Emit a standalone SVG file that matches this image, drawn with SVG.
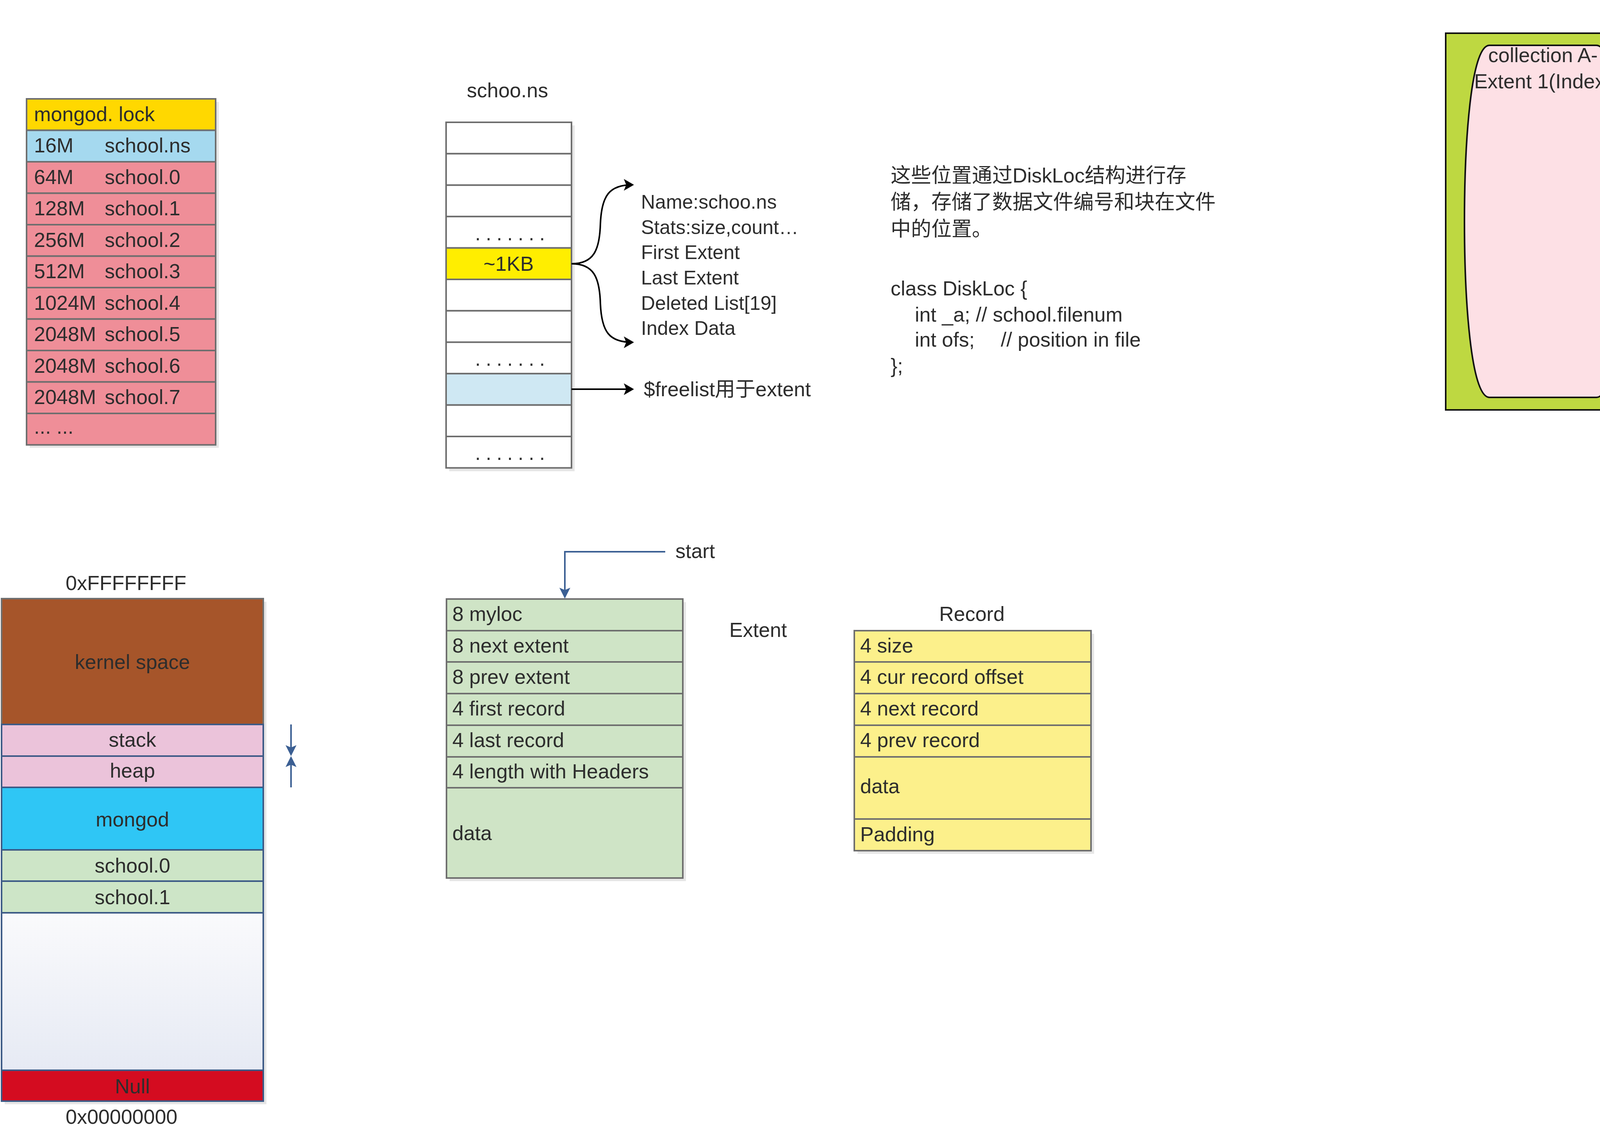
<svg xmlns="http://www.w3.org/2000/svg" width="6672" height="2897" viewBox="0 0 6672 2897">
<style>
.t{font-family:"Liberation Sans",Arial,"Noto Sans CJK SC",sans-serif;font-size:52px;fill:#2D2D2D}
.cjk{font-family:"Liberation Sans","Noto Sans CJK SC",sans-serif;font-size:52px;fill:#2D2D2D}
.f50{font-size:50px}
.f84{font-size:84px}
.c{text-anchor:middle}
.w{fill:#FFFFFF;font-weight:bold}
.cell{stroke:#6E6E6E;stroke-width:4}
.sh{fill:#E6E6E6}
.mem{stroke:#3C5A86;stroke-width:4}
.green{fill:#BED841;stroke:#111;stroke-width:4}
.pillB{fill:#CFEAF5;stroke:#111;stroke-width:4}
.pillP{fill:#FDE0E5;stroke:#111;stroke-width:4}
.doc{fill:#F8C630;stroke:#111;stroke-width:4}
.pad{fill:#FDF28C;stroke:#111;stroke-width:4}
.del{fill:#CFEAF5;stroke:#E8202A;stroke-width:4;stroke-dasharray:26 16}
.yl{fill:#FCF08B}
.gr{fill:#CFE4C6}
.blk{fill:none;stroke:#000;stroke-width:4}
.blu{fill:none;stroke:#3B5F93;stroke-width:4}
.wht{fill:none;stroke:#FFFFFF;stroke-width:10}
</style>
<defs>
<marker id="ahK" viewBox="0 0 26 30" refX="22" refY="15" markerWidth="26" markerHeight="30" markerUnits="userSpaceOnUse" orient="auto"><path d="M0,0 L26,15 L0,30 L6,15 Z" fill="#000"/></marker>
<marker id="ahB" viewBox="0 0 28 28" refX="24" refY="14" markerWidth="28" markerHeight="28" markerUnits="userSpaceOnUse" orient="auto"><path d="M0,0 L28,14 L0,28 L6,14 Z" fill="#3B5F93"/></marker>
<marker id="ahW" viewBox="0 0 50 56" refX="40" refY="28" markerWidth="50" markerHeight="56" markerUnits="userSpaceOnUse" orient="auto"><path d="M0,0 L50,28 L0,56 L10,28 Z" fill="#FFFFFF"/></marker>
<linearGradient id="gEmpty" x1="0" y1="0" x2="0" y2="1"><stop offset="0" stop-color="#FAFAFC"/><stop offset="1" stop-color="#E6EAF4"/></linearGradient>
</defs>

<g id="files">
<rect class="sh" x="76" y="261" width="484" height="885"/>
<rect class="cell" x="68" y="253" width="484" height="80.5" fill="#FFD800"/>
<rect class="cell" x="68" y="333.5" width="484" height="80.5" fill="#A5D9EF"/>
<g fill="#EF8E98">
<rect class="cell" x="68" y="414" width="484" height="80.5"/>
<rect class="cell" x="68" y="494.5" width="484" height="80.5"/>
<rect class="cell" x="68" y="575" width="484" height="80.5"/>
<rect class="cell" x="68" y="655.5" width="484" height="80.5"/>
<rect class="cell" x="68" y="736" width="484" height="80.5"/>
<rect class="cell" x="68" y="816.5" width="484" height="80.5"/>
<rect class="cell" x="68" y="897" width="484" height="80.5"/>
<rect class="cell" x="68" y="977.5" width="484" height="80.5"/>
<rect class="cell" x="68" y="1058" width="484" height="80.5"/>
</g>
<text class="t" x="87" y="310">mongod. lock</text>
<text class="t" x="87" y="390">16M</text><text class="t" x="268" y="390">school.ns</text>
<text class="t" x="87" y="471">64M</text><text class="t" x="268" y="471">school.0</text>
<text class="t" x="87" y="551">128M</text><text class="t" x="268" y="551">school.1</text>
<text class="t" x="87" y="632">256M</text><text class="t" x="268" y="632">school.2</text>
<text class="t" x="87" y="712">512M</text><text class="t" x="268" y="712">school.3</text>
<text class="t" x="87" y="793">1024M</text><text class="t" x="268" y="793">school.4</text>
<text class="t" x="87" y="873">2048M</text><text class="t" x="268" y="873">school.5</text>
<text class="t" x="87" y="954">2048M</text><text class="t" x="268" y="954">school.6</text>
<text class="t" x="87" y="1034">2048M</text><text class="t" x="268" y="1034">school.7</text>
<text class="t" x="87" y="1110">... ...</text>
</g>

<g id="ns-table">
<text class="t" x="1195" y="249">schoo.ns</text>
<rect class="sh" x="1150" y="321" width="321" height="885"/>
<g fill="#FFFFFF">
<rect class="cell" x="1142" y="313" width="321" height="80.4"/>
<rect class="cell" x="1142" y="393.4" width="321" height="80.4"/>
<rect class="cell" x="1142" y="473.8" width="321" height="80.4"/>
<rect class="cell" x="1142" y="554.2" width="321" height="80.4"/>
<rect class="cell" x="1142" y="634.6" width="321" height="80.4" fill="#FFEE00"/>
<rect class="cell" x="1142" y="715" width="321" height="80.4"/>
<rect class="cell" x="1142" y="795.4" width="321" height="80.4"/>
<rect class="cell" x="1142" y="875.8" width="321" height="80.4"/>
<rect class="cell" x="1142" y="956.2" width="321" height="80.4" fill="#CFE8F3"/>
<rect class="cell" x="1142" y="1036.6" width="321" height="80.4"/>
<rect class="cell" x="1142" y="1117" width="321" height="80.4"/>
</g>
<text class="t" x="1216" y="615" letter-spacing="13">.......</text>
<text class="t c" x="1302" y="693">~1KB</text>
<text class="t" x="1216" y="936" letter-spacing="13">.......</text>
<text class="t" x="1216" y="1177" letter-spacing="13">.......</text>
</g>

<g id="ns-details">
<text class="t f50" x="1641" y="534">Name:schoo.ns</text>
<text class="t f50" x="1641" y="599">Stats:size,count…</text>
<text class="t f50" x="1641" y="663">First Extent</text>
<text class="t f50" x="1641" y="728">Last Extent</text>
<text class="t f50" x="1641" y="793">Deleted List[19]</text>
<text class="t f50" x="1641" y="857">Index Data</text>
</g>
<g id="freelist">
<text class="cjk" x="1648" y="1014">$freelist用于extent</text>
</g>

<g id="diskloc-note">
<text class="cjk" x="2280" y="467">这些位置通过DiskLoc结构进行存</text>
<text class="cjk" x="2280" y="535">储，存储了数据文件编号和块在文件</text>
<text class="cjk" x="2280" y="604">中的位置。</text>
<text class="t" x="2280" y="756">class DiskLoc {</text>
<text class="t" x="2342" y="823">int _a; // school.filenum</text>
<text class="t" x="2342" y="887">int ofs;</text><text class="t" x="2562" y="887">// position in file</text>
<text class="t" x="2280" y="954">};</text>
</g>

<g id="school1">
<text class="t c" x="4461" y="62">school.1</text>
<rect class="green" x="3701" y="85" width="1367" height="964"/>
<path class="pillP" d="M3813,116 H4087 C4135,116 4151,368 4151,566 C4151,765 4135,1017 4087,1017 H3813 C3765,1017 3749,765 3749,566 C3749,368 3765,116 3813,116 Z"/>
<path class="pillB" d="M4249,116 H4520 C4568,116 4584,368 4584,566 C4584,765 4568,1017 4520,1017 H4249 C4201,1017 4185,765 4185,566 C4185,368 4201,116 4249,116 Z"/>
<path class="pillB" d="M4691,116 H4962 C5010,116 5026,368 5026,566 C5026,765 5010,1017 4962,1017 H4691 C4643,1017 4627,765 4627,566 C4627,368 4643,116 4691,116 Z"/>
<text class="t c" x="3950" y="159">collection A-</text><text class="t c" x="3950" y="226">Extent 1(Index)</text>
<text class="t c" x="4385" y="159">collection A-</text><text class="t c" x="4385" y="226">Extent 2(Data)</text>
<text class="t c" x="4827" y="159">collection B-</text><text class="t c" x="4827" y="226">Extent 4(Data)</text>
<rect class="doc" x="4209" y="294" width="353" height="161" rx="45" ry="40"/>
<rect class="pad" x="4209" y="391" width="353" height="64" rx="40" ry="32"/>
<text class="t c" x="4385" y="361">Document</text><text class="t c" x="4385" y="439">Padding</text>
<rect class="doc" x="4209" y="503" width="353" height="161" rx="45" ry="40"/>
<rect class="pad" x="4209" y="599" width="353" height="65" rx="40" ry="32"/>
<text class="t c" x="4385" y="571">Document</text><text class="t c" x="4385" y="647">Padding</text>
<rect class="del" x="4209" y="696" width="353" height="66" rx="40" ry="33"/>
<text class="t c" x="4385" y="746">Deleted</text>
<rect class="doc" x="4209" y="776" width="353" height="162" rx="45" ry="40"/>
<rect class="pad" x="4209" y="873" width="353" height="65" rx="40" ry="32"/>
<text class="t c" x="4385" y="844">Document</text><text class="t c" x="4385" y="921">Padding</text>
<rect class="doc" x="4651" y="294" width="353" height="161" rx="45" ry="40"/>
<rect class="pad" x="4651" y="391" width="353" height="64" rx="40" ry="32"/>
<text class="t c" x="4827" y="361">Document</text><text class="t c" x="4827" y="439">Padding</text>
<rect class="del" x="4651" y="503" width="353" height="65" rx="40" ry="32"/>
<text class="t c" x="4827" y="552">Deleted</text>
<rect class="del" x="4651" y="599" width="353" height="161" rx="45" ry="45"/>
<text class="t c" x="4827" y="697">Deleted</text>
</g>

<g id="school2">
<text class="t c" x="5747" y="61">school.2</text>
<rect class="green" x="5221" y="85" width="1445" height="963"/>
<path class="pillB" d="M5327,116 H5599 C5647,116 5663,368 5663,566 C5663,765 5647,1017 5599,1017 H5327 C5279,1017 5263,765 5263,566 C5263,368 5279,116 5327,116 Z"/>
<path class="pillB" d="M5768,116 H6042 C6090,116 6106,368 6106,566 C6106,765 6090,1017 6042,1017 H5768 C5720,1017 5704,765 5704,566 C5704,368 5720,116 5768,116 Z"/>
<path class="pillP" d="M6210,116 H6484 C6532,116 6548,368 6548,566 C6548,765 6532,1017 6484,1017 H6210 C6162,1017 6146,765 6146,566 C6146,368 6162,116 6210,116 Z"/>
<text class="t c" x="5463" y="162">collection B-</text><text class="t c" x="5463" y="229">Extent 5(Data)</text>
<text class="t c" x="5905" y="162">collection B-</text><text class="t c" x="5905" y="229">Extent 6(Data)</text>
<text class="t c" x="6347" y="162">collection B-</text><text class="t c" x="6347" y="229">Extent 7(Index)</text>
<rect class="del" x="5285" y="310" width="354" height="161" rx="45" ry="45"/>
<text class="t c" x="5462" y="408">Deleted</text>
<rect class="doc" x="5285" y="583" width="354" height="162" rx="45" ry="40"/>
<rect class="pad" x="5285" y="680" width="354" height="65" rx="40" ry="32"/>
<text class="t c" x="5462" y="653">Document</text><text class="t c" x="5462" y="731">Padding</text>
<rect class="doc" x="5728" y="294" width="354" height="161" rx="45" ry="40"/>
<rect class="pad" x="5728" y="390" width="354" height="65" rx="40" ry="32"/>
<text class="t c" x="5905" y="364">Document</text><text class="t c" x="5905" y="441">Padding</text>
</g>

<g id="legend">
<rect x="6187" y="1131" width="80" height="78" fill="#F8C630"/>
<rect x="6187" y="1218" width="80" height="79" fill="#CFEAF5"/>
<rect x="6187" y="1308" width="80" height="79" fill="#BED841"/>
<text class="t" x="6283" y="1187">dataSize</text>
<text class="t" x="6283" y="1275">storageSize</text>
<text class="t" x="6283" y="1364">fileSize</text>
</g>

<g id="memory">
<text class="t" x="168" y="1510">0xFFFFFFFF</text>
<rect class="sh" x="12" y="1540" width="670" height="1286"/>
<rect x="4" y="1532" width="670" height="322" fill="#A6552A" stroke="#707070" stroke-width="4"/>
<rect class="mem" x="4" y="1854" width="670" height="81" fill="#EBC3DA"/>
<rect class="mem" x="4" y="1935" width="670" height="80" fill="#EBC3DA"/>
<rect class="mem" x="4" y="2015" width="670" height="160" fill="#2FC6F5"/>
<rect class="mem" x="4" y="2175" width="670" height="80" fill="#CDE5C7"/>
<rect class="mem" x="4" y="2255" width="670" height="81" fill="#CDE5C7"/>
<rect class="mem" x="4" y="2336" width="670" height="403" fill="url(#gEmpty)"/>
<rect class="mem" x="4" y="2739" width="670" height="79" fill="#D40C20"/>
<text class="t c" x="339" y="1712">kernel space</text>
<text class="t c" x="339" y="1911">stack</text>
<text class="t c" x="339" y="1990">heap</text>
<text class="t c" x="339" y="2115">mongod</text>
<text class="t c" x="339" y="2233">school.0</text>
<text class="t c" x="339" y="2314">school.1</text>
<text class="t c" x="339" y="2798">Null</text>
<text class="t" x="168" y="2876">0x00000000</text>
</g>

<g id="extent-struct">
<text class="t" x="1729" y="1428">start</text>
<rect class="sh" x="1151" y="1541" width="605" height="714"/>
<g class="gr">
<rect class="cell" x="1143" y="1533" width="605" height="81"/>
<rect class="cell" x="1143" y="1614" width="605" height="80"/>
<rect class="cell" x="1143" y="1694" width="605" height="81"/>
<rect class="cell" x="1143" y="1775" width="605" height="81"/>
<rect class="cell" x="1143" y="1856" width="605" height="81"/>
<rect class="cell" x="1143" y="1937" width="605" height="79"/>
<rect class="cell" x="1143" y="2016" width="605" height="231"/>
</g>
<text class="t" x="1158" y="1589">8 myloc</text>
<text class="t" x="1158" y="1670">8 next extent</text>
<text class="t" x="1158" y="1750">8 prev extent</text>
<text class="t" x="1158" y="1831">4 first record</text>
<text class="t" x="1158" y="1912">4 last record</text>
<text class="t" x="1158" y="1992">4 length with Headers</text>
<text class="t" x="1158" y="2150">data</text>
<text class="t" x="1867" y="1630">Extent</text>
</g>

<g id="record">
<text class="t c" x="2488" y="1589">Record</text>
<rect class="sh" x="2195" y="1622" width="606" height="563"/>
<g class="yl">
<rect class="cell" x="2187" y="1614" width="606" height="80"/>
<rect class="cell" x="2187" y="1694" width="606" height="81"/>
<rect class="cell" x="2187" y="1775" width="606" height="81"/>
<rect class="cell" x="2187" y="1856" width="606" height="81"/>
<rect class="cell" x="2187" y="1937" width="606" height="159"/>
<rect class="cell" x="2187" y="2096" width="606" height="81"/>
</g>
<text class="t" x="2202" y="1670">4 size</text>
<text class="t" x="2202" y="1750">4 cur record offset</text>
<text class="t" x="2202" y="1831">4 next record</text>
<text class="t" x="2202" y="1912">4 prev record</text>
<text class="t" x="2202" y="2030">data</text>
<text class="t" x="2202" y="2153">Padding</text>
</g>

<g id="extent-diagram">
<text class="t c f84" x="5166" y="1514">Extent</text>
<rect x="4342" y="1524" width="1766" height="761" fill="#3F63AE" stroke="#1A1A1A" stroke-width="4"/>
<text class="t c w" x="5139" y="1598">Data Record 1</text>
<text class="t c w" x="5789" y="1598">Data Record 2</text>
<g class="yl">
<rect class="cell" x="4393" y="1782" width="348" height="80"/>
<rect class="cell" x="4393" y="1862" width="348" height="80"/>
<rect class="cell" x="4393" y="1942" width="348" height="81"/>
<rect class="cell" x="4393" y="2023" width="348" height="81"/>
<rect class="cell" x="4393" y="2104" width="348" height="81"/>
<rect class="cell" x="4938" y="1622" width="463" height="79"/>
<rect class="cell" x="4938" y="1701" width="463" height="81"/>
<rect class="cell" x="4938" y="1782" width="463" height="80"/>
<rect class="cell" x="4938" y="1862" width="463" height="80"/>
<rect class="cell" x="4938" y="1942" width="463" height="162"/>
<rect class="cell" x="4938" y="2104" width="463" height="81"/>
<rect class="cell" x="5581" y="1622" width="463" height="79"/>
<rect class="cell" x="5581" y="1701" width="463" height="81"/>
<rect class="cell" x="5581" y="1782" width="463" height="80"/>
<rect class="cell" x="5581" y="1862" width="463" height="80"/>
<rect class="cell" x="5581" y="1942" width="463" height="162"/>
<rect class="cell" x="5581" y="2104" width="463" height="81"/>
</g>
<text class="t" x="4407" y="1839">4 size</text>
<text class="t" x="4407" y="1919">4 next extent</text>
<text class="t" x="4407" y="1999">4 prev extent</text>
<text class="t" x="4407" y="2080">4 first record</text>
<text class="t" x="4407" y="2161">4 last record</text>
<text class="t" x="4952" y="1679">4 size</text>
<text class="t" x="4952" y="1759">4 cur record offset</text>
<text class="t" x="4952" y="1839">4 next record</text>
<text class="t" x="4952" y="1919">4 prev record</text>
<text class="t" x="4952" y="2040">data</text>
<text class="t" x="4952" y="2161">Padding</text>
<text class="t" x="5595" y="1679">4 size</text>
<text class="t" x="5595" y="1759">4 cur record offset</text>
<text class="t" x="5595" y="1839">4 next record</text>
<text class="t" x="5595" y="1919">4 prev record</text>
<text class="t" x="5595" y="2040">data</text>
<text class="t" x="5595" y="2161">Padding</text>
</g>

<g id="connectors">
<path class="blk" d="M1463,675 C1520,675 1535,640 1537,573 C1540,500 1560,473 1619,473" marker-end="url(#ahK)"/>
<path class="blk" d="M1463,675 C1520,675 1535,710 1537,777 C1540,850 1560,876 1619,876" marker-end="url(#ahK)"/>
<path class="blk" d="M1463,996 H1619" marker-end="url(#ahK)"/>
<path class="blu" d="M1703,1412 H1446 V1528" marker-end="url(#ahB)"/>
<path class="blu" d="M745,1854 V1931" marker-end="url(#ahB)"/>
<path class="blu" d="M745,2015 V1939" marker-end="url(#ahB)"/>
<path class="wht" d="M4741,2064 H4822 V1822 H4928" marker-end="url(#ahW)"/>
<path class="wht" d="M4741,2144 H4822 V2248 H5816 V2196" marker-end="url(#ahW)"/>
<path class="wht" d="M5401,1822 H5571" marker-end="url(#ahW)"/>
<path class="wht" d="M5581,1902 H5411" marker-end="url(#ahW)"/>
</g>
</svg>
